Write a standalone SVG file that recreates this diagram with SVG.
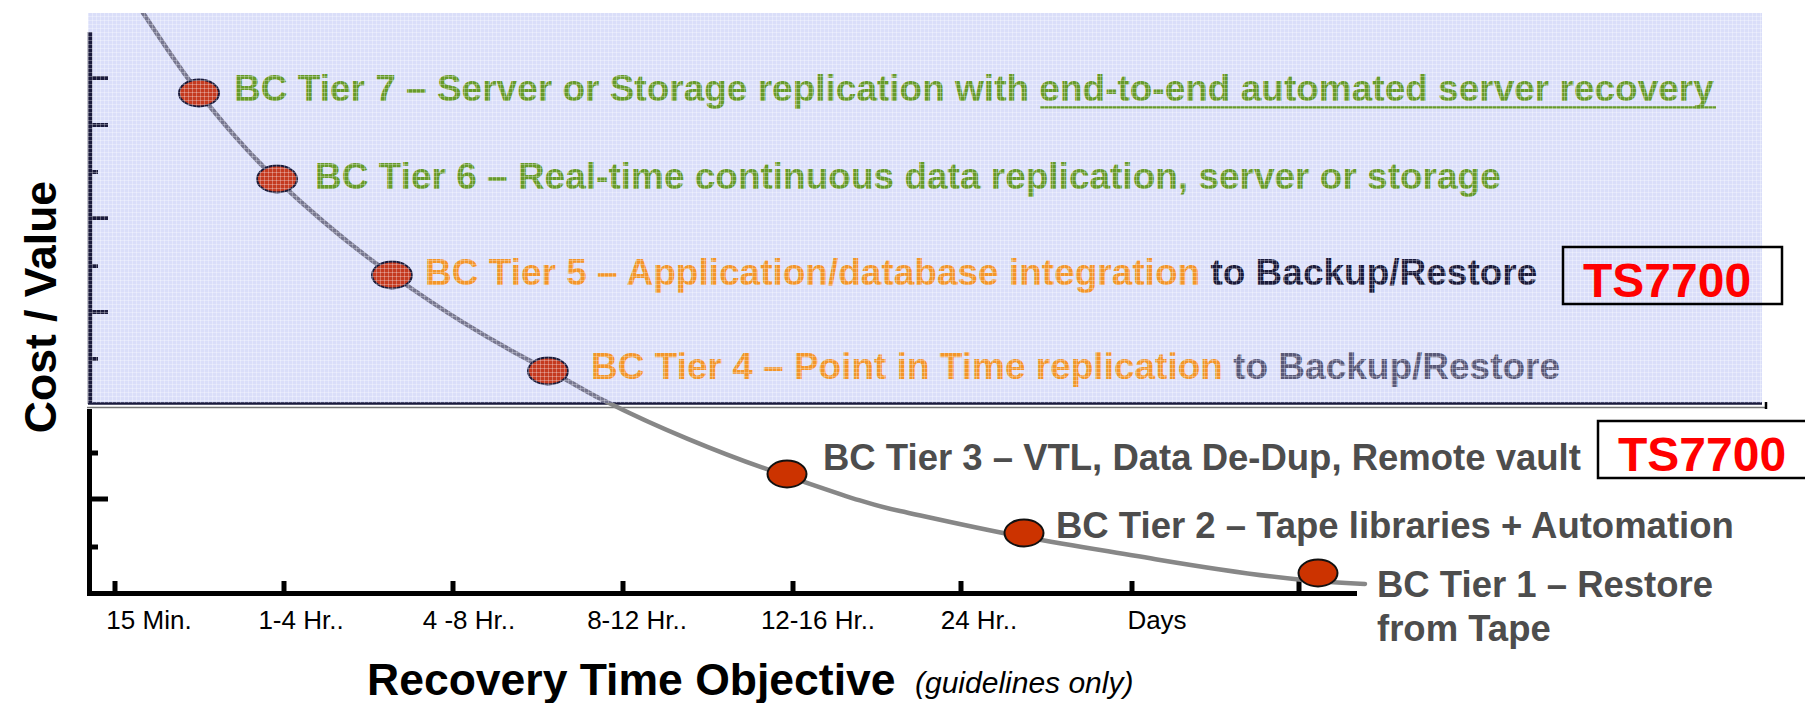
<svg xmlns="http://www.w3.org/2000/svg" width="1805" height="703" viewBox="0 0 1805 703">
  <style>
    .tier { font-family: "Liberation Sans", Arial, Helvetica, sans-serif; font-weight: bold; font-size: 37px; }
    .low { font-size: 36.5px; fill: #4d4d4d; }
    .green { fill: #669a2a; }
    .orange { fill: #f2952a; }
    .navy { fill: #1a1a3a; }
    .slate { fill: #585878; }
    .dot-hi { fill: #c43a20; stroke: #1a1a3a; stroke-width: 2; }
    .dot-lo { fill: #cc3300; stroke: #111111; stroke-width: 2; }
    .tick-hi { stroke: #1a1a3c; stroke-width: 4; }
    .tick-lo { stroke: #000000; stroke-width: 5; }
    .xlabel { font-family: "Liberation Sans", Arial, Helvetica, sans-serif; font-size: 26px; fill: #000000; text-anchor: middle; }
    .title { font-family: "Liberation Sans", Arial, Helvetica, sans-serif; font-weight: bold; font-size: 44.5px; fill: #000000; }
    .badge { fill: none; stroke: #000000; stroke-width: 2.5; }
    .badge-text { font-family: "Liberation Sans", Arial, Helvetica, sans-serif; font-weight: bold; font-size: 48px; fill: #ff0000; }
  </style>
  <defs>
    <pattern id="mesh" width="4" height="4" patternUnits="userSpaceOnUse">
      <path d="M0 0.5H4M0.5 0V4" stroke="#ffffff" stroke-width="1" stroke-opacity="0.3" fill="none"/>
    </pattern>
    <clipPath id="panelClip">
      <rect x="88" y="13" width="1674" height="390"/>
    </clipPath>
    <clipPath id="belowClip">
      <rect x="0" y="403" width="1805" height="300"/>
    </clipPath>
    <path id="costCurve" d="M143 13 C152.3 26.3 176.7 65.2 199 93 C221.3 120.8 244.8 149.7 277 180 C309.2 210.3 346.8 243.3 392 275 C437.2 306.7 482.2 336.8 548 370 C575 384 590 394 605 401 C650 424 720 454 787 476 C840 494 870 505 900 511 C950 522 985 530 1024 537 C1080 547 1120 553 1160 560 C1220 570 1260 576 1304 580 C1325 582 1345 583 1365 584"/>
  </defs>

  <rect width="1805" height="703" fill="#ffffff"/>

  <!-- shaded high-value band -->
  <g id="upper-band">
    <rect x="88" y="13" width="1674" height="390" fill="#dadef9"/>
    <line x1="88" y1="403.5" x2="1762" y2="403.5" stroke="#1a1a3c" stroke-width="2.5"/>
    <line x1="87" y1="407.5" x2="1766" y2="407.5" stroke="#777777" stroke-width="1.5"/>
    <line x1="1766" y1="402" x2="1766" y2="409" stroke="#000000" stroke-width="2.5"/>
  </g>

  <!-- axes -->
  <g id="axes">
    <line x1="90" y1="32" x2="90" y2="404" stroke="#1a1a3c" stroke-width="4.5"/>
    <line class="tick-hi" x1="88" y1="78" x2="108" y2="78"/>
    <line class="tick-hi" x1="88" y1="125" x2="108" y2="125"/>
    <line class="tick-hi" x1="88" y1="172" x2="98" y2="172"/>
    <line class="tick-hi" x1="88" y1="218" x2="108" y2="218"/>
    <line class="tick-hi" x1="88" y1="266" x2="98" y2="266"/>
    <line class="tick-hi" x1="88" y1="312" x2="108" y2="312"/>
    <line class="tick-hi" x1="88" y1="359" x2="98" y2="359"/>

    <line x1="89.5" y1="409" x2="89.5" y2="596" stroke="#000000" stroke-width="5"/>
    <line x1="87" y1="593.5" x2="1357" y2="593.5" stroke="#000000" stroke-width="5"/>
    <line class="tick-lo" x1="87" y1="453" x2="98" y2="453"/>
    <line class="tick-lo" x1="87" y1="499" x2="108" y2="499"/>
    <line class="tick-lo" x1="87" y1="547" x2="98" y2="547"/>

    <line class="tick-lo" x1="115" y1="581" x2="115" y2="593"/>
    <line class="tick-lo" x1="284" y1="581" x2="284" y2="593"/>
    <line class="tick-lo" x1="453" y1="581" x2="453" y2="593"/>
    <line class="tick-lo" x1="623" y1="581" x2="623" y2="593"/>
    <line class="tick-lo" x1="793" y1="581" x2="793" y2="593"/>
    <line class="tick-lo" x1="961" y1="581" x2="961" y2="593"/>
    <line class="tick-lo" x1="1132" y1="581" x2="1132" y2="593"/>
    <line class="tick-lo" x1="1299" y1="581" x2="1299" y2="593"/>

    <text class="xlabel" x="149" y="629">15 Min.</text>
    <text class="xlabel" x="301" y="629">1-4 Hr..</text>
    <text class="xlabel" x="469" y="629">4 -8 Hr..</text>
    <text class="xlabel" x="637" y="629">8-12 Hr..</text>
    <text class="xlabel" x="818" y="629">12-16 Hr..</text>
    <text class="xlabel" x="979" y="629">24 Hr..</text>
    <text class="xlabel" x="1157" y="629">Days</text>

    <text class="title" transform="translate(56 307) rotate(-90)" text-anchor="middle" font-size="44">Cost / Value</text>
    <text class="title" x="367" y="695">Recovery Time Objective</text>
    <text x="915" y="693" font-family="Liberation Sans, Arial, Helvetica, sans-serif" font-style="italic" font-size="30" fill="#000000">(guidelines only)</text>
  </g>

  <!-- cost curve -->
  <g id="connectors" fill="none" stroke-width="4.5" stroke-linecap="round">
    <use href="#costCurve" stroke="#76768f" clip-path="url(#panelClip)"/>
    <use href="#costCurve" stroke="#878787" clip-path="url(#belowClip)"/>
  </g>

  <!-- tiers -->
  <g id="tier7">
    <ellipse class="dot-hi" cx="199" cy="93" rx="20" ry="13.5"/>
    <text class="tier green" x="234" y="101">BC Tier 7 – Server or Storage replication with end-to-end automated server recovery</text>
    <line x1="1040" y1="107.5" x2="1716" y2="107.5" stroke="#669a2a" stroke-width="2.5"/>
  </g>
  <g id="tier6">
    <ellipse class="dot-hi" cx="277" cy="179" rx="20" ry="13.5"/>
    <text class="tier green" x="315" y="189">BC Tier 6 – Real-time continuous data replication, server or storage</text>
  </g>
  <g id="tier5">
    <ellipse class="dot-hi" cx="392" cy="275" rx="20" ry="13.5"/>
    <text class="tier" x="425" y="285"><tspan class="orange">BC Tier 5 – Application/database integration</tspan><tspan class="navy"> to Backup/Restore</tspan></text>
  </g>
  <g id="tier4">
    <ellipse class="dot-hi" cx="548" cy="371" rx="20" ry="13.5"/>
    <text class="tier" x="591" y="379"><tspan class="orange">BC Tier 4 – Point in Time replication</tspan><tspan class="slate"> to Backup/Restore</tspan></text>
  </g>

  <!-- screen texture over the shaded band -->
  <rect x="88" y="13" width="1674" height="390" fill="url(#mesh)"/>

  <g id="tier3">
    <ellipse class="dot-lo" cx="787" cy="474" rx="19.5" ry="13.5"/>
    <text class="tier low" x="823" y="470">BC Tier 3 – VTL, Data De-Dup, Remote vault</text>
  </g>
  <g id="tier2">
    <ellipse class="dot-lo" cx="1024" cy="533" rx="19.5" ry="13.5"/>
    <text class="tier low" x="1056" y="538">BC Tier 2 – Tape libraries + Automation</text>
  </g>
  <g id="tier1">
    <ellipse class="dot-lo" cx="1318" cy="573" rx="19.5" ry="13.5"/>
    <text class="tier low" x="1377" y="597">BC Tier 1 – Restore</text>
    <text class="tier low" x="1377" y="641">from Tape</text>
  </g>

  <g id="ts7700-upper">
    <rect class="badge" x="1563" y="247" width="219" height="57"/>
    <text class="badge-text" x="1583" y="297">TS7700</text>
  </g>
  <g id="ts7700-lower">
    <rect class="badge" x="1598" y="421" width="230" height="57"/>
    <text class="badge-text" x="1618" y="471">TS7700</text>
  </g>
</svg>
